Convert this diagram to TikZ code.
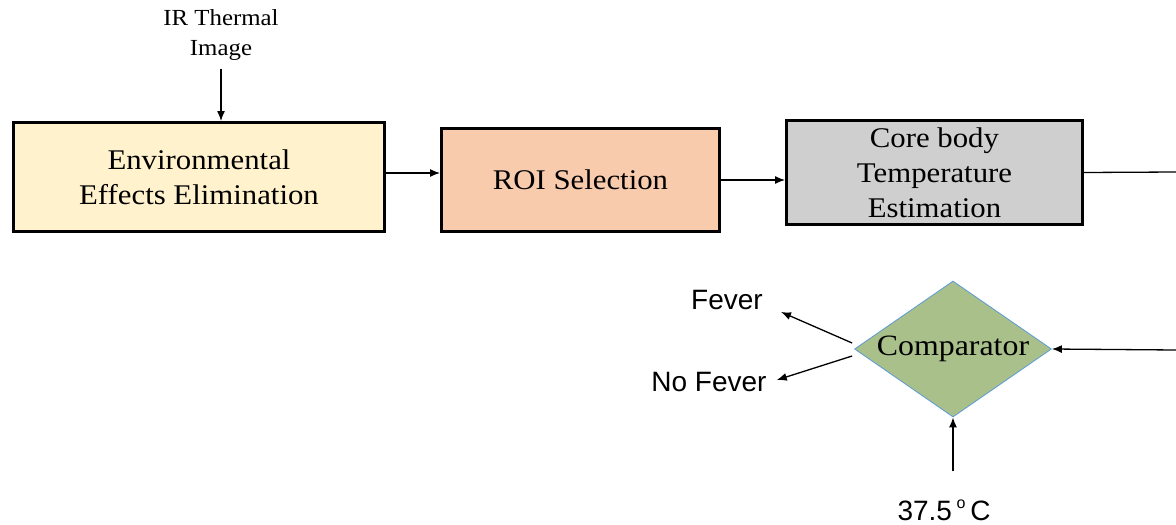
\documentclass[tikz,border=0pt]{standalone}
\usepackage{fontspec}
\setmainfont{Liberation Serif}[FakeStretch=1.08]
\newfontfamily\arialf{Liberation Sans}
\usetikzlibrary{shapes.geometric,arrows.meta}
\definecolor{cyellow}{HTML}{FFF2CC}
\definecolor{cpeach}{HTML}{F8CBAD}
\definecolor{cgray}{HTML}{CFCFCF}
\definecolor{cgreen}{HTML}{A9C08A}
\definecolor{cblue}{HTML}{5B9BD5}
\begin{document}
\begin{tikzpicture}[x=1pt,y=-1pt,
  stagebox/.style={draw=black,line width=3pt,align=center,inner sep=0pt,
    font=\fontsize{28.5pt}{35pt}\selectfont},
  arr/.style={line width=1.3pt,-{Latex[length=10pt,width=8pt]}},
  plain/.style={line width=1.3pt},
  lbl/.style={font=\arialf\fontsize{28pt}{30pt}\selectfont,inner sep=0pt}]
\useasboundingbox (0,0) rectangle (1176,525);

\node[inner sep=0pt,align=center,font=\fontsize{23pt}{30pt}\selectfont] (ir) at (221,35) {IR Thermal\\Image};

\node[stagebox,fill=cyellow,minimum width=371pt,minimum height=109pt] (n1) at (199,177) {Environmental\\Effects Elimination};
\node[stagebox,fill=cpeach,minimum width=278pt,minimum height=103pt] (n2) at (580.5,180) {ROI Selection};
\node[stagebox,fill=cgray,minimum width=296pt,minimum height=104pt] (n3) at (934.5,172.5) {Core body\\Temperature\\Estimation};

\node[diamond,draw=cblue,fill=cgreen,line width=0.8pt,shape aspect=1.45,
  minimum width=197pt,minimum height=136pt,inner sep=0pt,
  font=\fontsize{29.5pt}{30pt}\selectfont] (comp) at (953,349) {\makebox[0pt]{Comparator}};

\node[lbl] (fever) at (727,300) {Fever};
\node[lbl] (nofever) at (709,382) {No Fever};
\node[lbl] (temp) at (944,510) {37.5\,\raisebox{0.42em}{\fontsize{16pt}{16pt}\selectfont o}\,C};

\coordinate (r1) at (1176,172);
\coordinate (r2) at (1176,350);

\draw[arr] ([yshift=-8pt]ir.south) -- (n1.north -| ir.south);
\draw[arr] ([yshift=4pt]n1.east) -- ([yshift=4pt]n1.east -| n2.west);
\draw[arr] (n2.east) -- (n2.east -| n3.west);
\draw[plain] (n3.east) -- (r1);
\draw[arr] (r2) -- (comp.east);
\draw[arr] ([yshift=28pt]temp.north -| comp.south) -- (comp.south);
\draw[arr] ([xshift=-2pt,yshift=6pt]comp.west) -- ([xshift=18pt,yshift=-2pt]fever.south east);
\draw[arr] ([xshift=-2pt,yshift=-7pt]comp.west) -- ([xshift=10pt,yshift=2pt]nofever.east);
\end{tikzpicture}
\end{document}
